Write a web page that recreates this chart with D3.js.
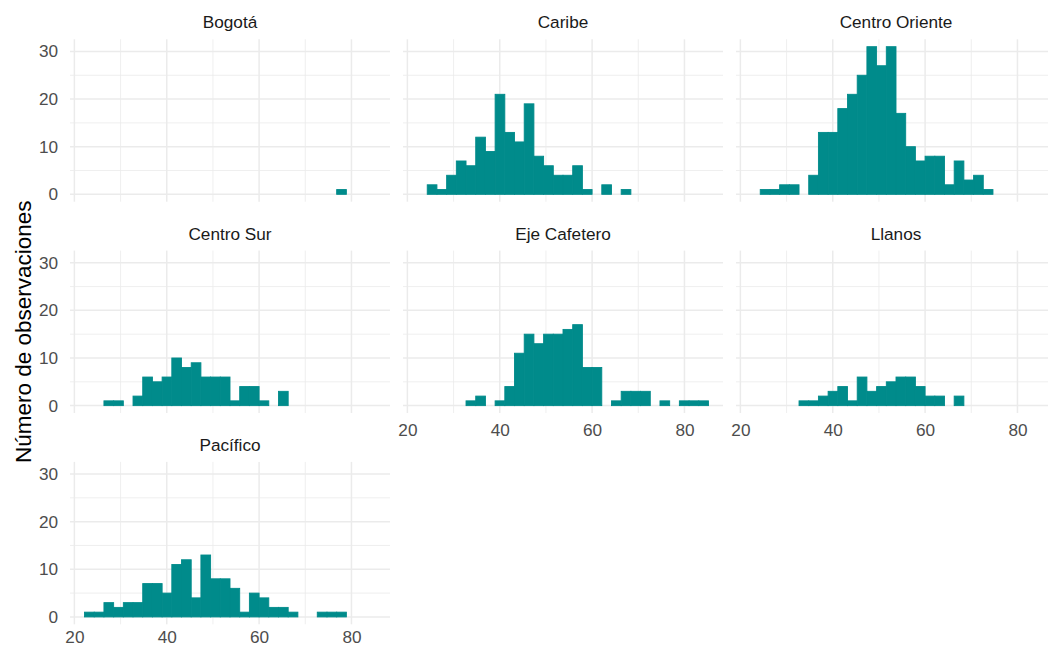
<!DOCTYPE html>
<html>
<head>
<meta charset="utf-8">
<script src="https://cdn.jsdelivr.net/npm/d3@7"></script>
<style>
  body { margin: 0; background: #fff; overflow: hidden; }
  svg { display: block; font-family: "Liberation Sans", Arial, sans-serif; }
</style>
</head>
<body>
<div id="chart"></div>
<script>
// histogram bins shared by every facet (30 bins)
const binStart = 22.2;
const binWidth = 2.1;

const regions = ["Bogotá", "Caribe", "Centro Oriente", "Centro Sur", "Eje Cafetero", "Llanos", "Pacífico"];

const countsBogota        = [0,0,0,0,0,0,0,0,0,0,0,0,0,0,0,0,0,0,0,0,0,0,0,0,0,0,1,0,0,0];
const countsCaribe        = [0,2,1,4,7,6,12,9,21,13,11,19,8,6,4,4,6,1,0,2,0,1,0,0,0,0,0,0,0,0];
const countsCentroOriente = [0,1,1,2,2,0,4,13,13,18,21,25,31,27,31,17,10,7,8,8,2,7,3,4,1,0,0,0,0,0];
const countsCentroSur     = [0,0,1,1,0,2,6,5,6,10,8,9,6,6,6,1,4,4,1,0,3,0,0,0,0,0,0,0,0,0];
const countsEjeCafetero   = [0,0,0,0,0,1,2,0,1,4,11,15,13,15,15,16,17,8,8,0,1,3,3,3,0,1,0,1,1,1];
const countsLlanos        = [0,0,0,0,0,1,1,2,3,4,1,6,3,4,5,6,6,4,2,2,0,2,0,0,0,0,0,0,0,0];
const countsPacifico      = [1,1,3,2,3,3,7,7,5,11,12,4,13,8,8,6,1,5,4,2,2,1,0,0,1,1,1,0,0,0];

const allCounts = [countsBogota, countsCaribe, countsCentroOriente, countsCentroSur,
                   countsEjeCafetero, countsLlanos, countsPacifico];

const xMajor = [20, 40, 60, 80];
const xMinor = [30, 50, 70];
const yMajor = [0, 10, 20, 30];
const yMinor = [5, 15, 25];

const yTitle = "Número de observaciones";

const W = 1048, H = 650;
const nCols = 3;
const panelW = 320, panelH = 162.4;
const left0 = 70, top0 = 39.3;
const colStep = 333, rowStep = 211.3;
const barColor = "#008b8b";
const fontSize = 17.2;

const svg = d3.select("#chart").append("svg")
    .attr("width", W)
    .attr("height", H);

// x domain: bin range + 5% expansion like ggplot
const binEnd = binStart + binWidth * countsBogota.length;
const xPad = (binEnd - binStart) * 0.05;
const x = d3.scaleLinear()
    .domain([binStart - xPad, binEnd + xPad])
    .range([0, panelW]);

const yMax = d3.max(allCounts, c => d3.max(c));
const y = d3.scaleLinear()
    .domain([-yMax * 0.05, yMax * 1.05])
    .range([panelH, 0]);

const nRows = Math.ceil(regions.length / nCols);

regions.forEach((region, i) => {
    const col = i % nCols, row = Math.floor(i / nCols);
    const g = svg.append("g")
        .attr("transform", `translate(${left0 + col * colStep},${top0 + row * rowStep})`);

    // grid
    g.selectAll(".vminor").data(xMinor).enter().append("line")
        .attr("x1", d => x(d)).attr("x2", d => x(d))
        .attr("y1", 0).attr("y2", panelH)
        .attr("stroke", "#ebebeb").attr("stroke-width", 0.8);
    g.selectAll(".hminor").data(yMinor).enter().append("line")
        .attr("x1", 0).attr("x2", panelW)
        .attr("y1", d => y(d)).attr("y2", d => y(d))
        .attr("stroke", "#ebebeb").attr("stroke-width", 0.8);
    g.selectAll(".vmajor").data(xMajor).enter().append("line")
        .attr("x1", d => x(d)).attr("x2", d => x(d))
        .attr("y1", 0).attr("y2", panelH)
        .attr("stroke", "#ebebeb").attr("stroke-width", 1.5);
    g.selectAll(".hmajor").data(yMajor).enter().append("line")
        .attr("x1", 0).attr("x2", panelW)
        .attr("y1", d => y(d)).attr("y2", d => y(d))
        .attr("stroke", "#ebebeb").attr("stroke-width", 1.5);

    // bars (same-colour stroke hides the seams between neighbours)
    const bins = allCounts[i].map((c, k) => ({ x0: binStart + k * binWidth, x1: binStart + (k + 1) * binWidth, count: c }))
        .filter(d => d.count > 0);
    g.selectAll(".bar").data(bins).enter().append("rect")
        .attr("x", d => x(d.x0))
        .attr("width", d => x(d.x1) - x(d.x0))
        .attr("y", d => y(d.count))
        .attr("height", d => y(0) - y(d.count))
        .attr("fill", barColor)
        .attr("stroke", barColor)
        .attr("stroke-width", 0.9);

    // strip title
    g.append("text")
        .attr("x", panelW / 2)
        .attr("y", -11)
        .attr("text-anchor", "middle")
        .attr("font-size", fontSize)
        .attr("fill", "#1a1a1a")
        .text(region);

    // y labels only on first column
    if (col === 0) {
        const ya = g.append("g")
            .call(d3.axisLeft(y).tickValues(yMajor).tickSize(0).tickPadding(12));
        ya.select(".domain").remove();
        ya.selectAll("text").attr("font-size", fontSize).attr("fill", "#4d4d4d")
            .attr("font-family", "Liberation Sans, Arial, sans-serif");
    }

    // x labels under panels with nothing below
    const below = i + nCols;
    if (below >= regions.length) {
        const lastRow = row === nRows - 1;
        const xa = g.append("g")
            .attr("transform", `translate(0,${panelH})`)
            .call(d3.axisBottom(x).tickValues(xMajor).tickSize(0).tickPadding(lastRow ? 6 : 11));
        xa.select(".domain").remove();
        xa.selectAll("text").attr("font-size", fontSize).attr("fill", "#4d4d4d")
            .attr("font-family", "Liberation Sans, Arial, sans-serif");
    }
});

// y axis title
const midY = top0 + ((nRows - 1) * rowStep + panelH) / 2;
svg.append("text")
    .attr("transform", `translate(31,${midY}) rotate(-90)`)
    .attr("text-anchor", "middle")
    .attr("font-size", 22.5)
    .attr("fill", "#000")
    .text(yTitle);
</script>
</body>
</html>
